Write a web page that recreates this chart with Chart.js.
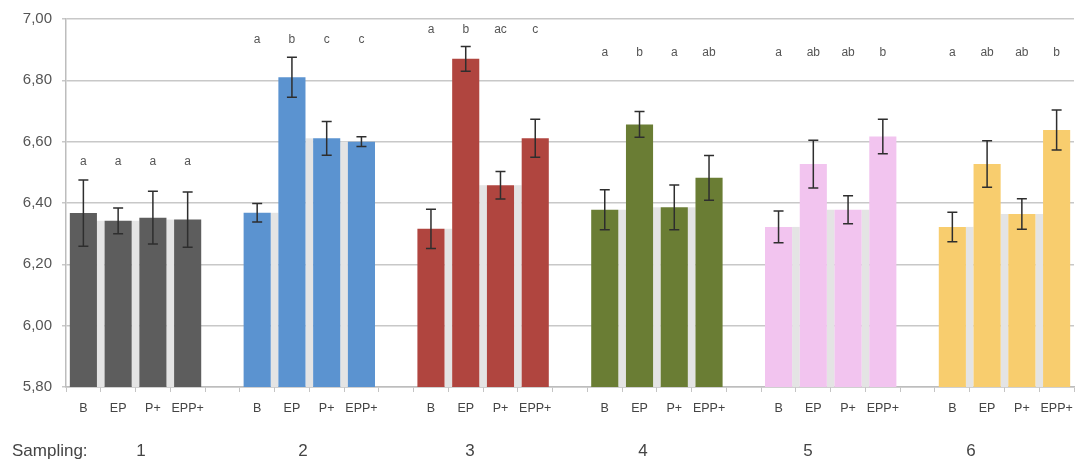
<!DOCTYPE html>
<html>
<head>
<meta charset="utf-8">
<script src="https://cdn.jsdelivr.net/npm/chart.js@4"></script>
<style>
  html, body { margin: 0; padding: 0; background: #fff; }
  #wrap { width: 1084px; height: 463px; position: relative; }
</style>
</head>
<body>
<div id="wrap"><canvas id="phChart"></canvas></div>
<script>
// pH per sampling and treatment
const treatments = ['B', 'EP', 'P+', 'EPP+'];
const samplings = ['1', '2', '3', '4', '5', '6'];
const groupColors = ['#5d5d5d', '#5b93d0', '#b0453f', '#6a7d34', '#f2c4ef', '#f8cd6e'];

const means1 = [6.367, 6.342, 6.352, 6.346];
const means2 = [6.368, 6.810, 6.611, 6.600];
const means3 = [6.316, 6.870, 6.458, 6.611];
const means4 = [6.378, 6.656, 6.386, 6.482];
const means5 = [6.322, 6.527, 6.378, 6.617];
const means6 = [6.322, 6.527, 6.364, 6.638];

const err1 = [0.108, 0.042, 0.086, 0.090];
const err2 = [0.030, 0.065, 0.055, 0.016];
const err3 = [0.064, 0.040, 0.045, 0.062];
const err4 = [0.065, 0.042, 0.073, 0.073];
const err5 = [0.052, 0.078, 0.046, 0.056];
const err6 = [0.048, 0.076, 0.050, 0.065];

const letters1 = ['a', 'a', 'a', 'a'];
const letters2 = ['a', 'b', 'c', 'c'];
const letters3 = ['a', 'b', 'ac', 'c'];
const letters4 = ['a', 'b', 'a', 'ab'];
const letters5 = ['a', 'ab', 'ab', 'b'];
const letters6 = ['a', 'ab', 'ab', 'b'];
const letterLevel = [6.536, 6.932, 6.964, 6.890, 6.890, 6.890];

const yTicks = [5.8, 6.0, 6.2, 6.4, 6.6, 6.8, 7.0];

const allMeans = [means1, means2, means3, means4, means5, means6];
const allErr = [err1, err2, err3, err4, err5, err6];
const allLetters = [letters1, letters2, letters3, letters4, letters5, letters6];

// flatten: 4 bars then one empty slot between groups
const labels = [], values = [], errors = [], marks = [], colors = [], groupOf = [];
allMeans.forEach((g, gi) => {
  g.forEach((v, i) => {
    labels.push(treatments[i]);
    values.push(v);
    errors.push(allErr[gi][i]);
    marks.push(allLetters[gi][i]);
    colors.push(groupColors[gi]);
    groupOf.push(gi);
  });
  if (gi < allMeans.length - 1) {
    labels.push(''); values.push(null); errors.push(null); marks.push(''); colors.push('#fff'); groupOf.push(-1);
  }
});

const FONT = '"Liberation Sans", Arial, sans-serif';

const extras = {
  id: 'extras',
  beforeDatasetsDraw(chart) {
    // light shading in the gaps between neighbouring bars
    const c = chart.ctx, meta = chart.getDatasetMeta(0), y = chart.scales.y;
    c.save();
    c.fillStyle = '#e4e4e4';
    for (let i = 0; i < values.length - 1; i++) {
      if (values[i] == null || values[i + 1] == null) continue;
      const a = meta.data[i], b = meta.data[i + 1];
      const top = y.getPixelForValue(Math.min(values[i], values[i + 1]));
      c.fillRect(a.x + a.width / 2, top, (b.x - b.width / 2) - (a.x + a.width / 2), y.bottom - top);
    }
    c.restore();
  },
  afterDatasetsDraw(chart) {
    const c = chart.ctx, meta = chart.getDatasetMeta(0), y = chart.scales.y;
    c.save();
    // error bars
    c.strokeStyle = '#2e2e2e';
    c.lineWidth = 1.5;
    values.forEach((v, i) => {
      if (v == null) return;
      const x = meta.data[i].x;
      const hi = y.getPixelForValue(v + errors[i]);
      const lo = y.getPixelForValue(v - errors[i]);
      c.beginPath();
      c.moveTo(x, hi); c.lineTo(x, lo);
      c.moveTo(x - 5, hi); c.lineTo(x + 5, hi);
      c.moveTo(x - 5, lo); c.lineTo(x + 5, lo);
      c.stroke();
    });
    // significance letters
    c.fillStyle = '#555';
    c.font = '12px ' + FONT;
    c.textAlign = 'center';
    c.textBaseline = 'middle';
    values.forEach((v, i) => {
      if (v == null) return;
      c.fillText(marks[i], meta.data[i].x, y.getPixelForValue(letterLevel[groupOf[i]]));
    });
    // sampling row
    c.fillStyle = '#444';
    c.font = '17px ' + FONT;
    c.textAlign = 'left';
    c.fillText('Sampling:', 12, 451);
    const sx = [141, 303, 470, 643, 808, 971];
    c.textAlign = 'center';
    samplings.forEach((s, i) => c.fillText(s, sx[i], 451));
    c.restore();
  }
};

new Chart(document.getElementById('phChart'), {
  type: 'bar',
  data: {
    labels: labels,
    datasets: [{
      data: values,
      backgroundColor: colors,
      categoryPercentage: 1.0,
      barPercentage: 0.78
    }]
  },
  options: {
    responsive: true,
    maintainAspectRatio: false,
    animation: false,
    layout: { padding: { top: 17, right: 10, left: 0, bottom: 0 } },
    plugins: { legend: { display: false }, tooltip: { enabled: false } },
    scales: {
      x: {
        afterFit: (s) => { s.height = 76; },
        grid: { drawOnChartArea: false, drawTicks: true, tickLength: 5, color: '#c4c4c4', offset: true },
        border: { color: '#bdbdbd', width: 1.5 },
        ticks: { color: '#444', font: { family: FONT, size: 12.5 }, padding: 9, autoSkip: false, maxRotation: 0 }
      },
      y: {
        min: 5.8,
        max: 7.0,
        afterFit: (s) => { s.width = 66; },
        afterBuildTicks: (s) => { s.ticks = yTicks.map(v => ({ value: v })); },
        grid: { color: '#c8c8c8', lineWidth: 1.5, tickLength: 4 },
        border: { color: '#bdbdbd', width: 1.5 },
        ticks: {
          color: '#555',
          font: { family: FONT, size: 15 },
          padding: 10,
          callback: (v) => v.toFixed(2).replace('.', ',')
        }
      }
    }
  },
  plugins: [extras]
});
</script>
</body>
</html>
